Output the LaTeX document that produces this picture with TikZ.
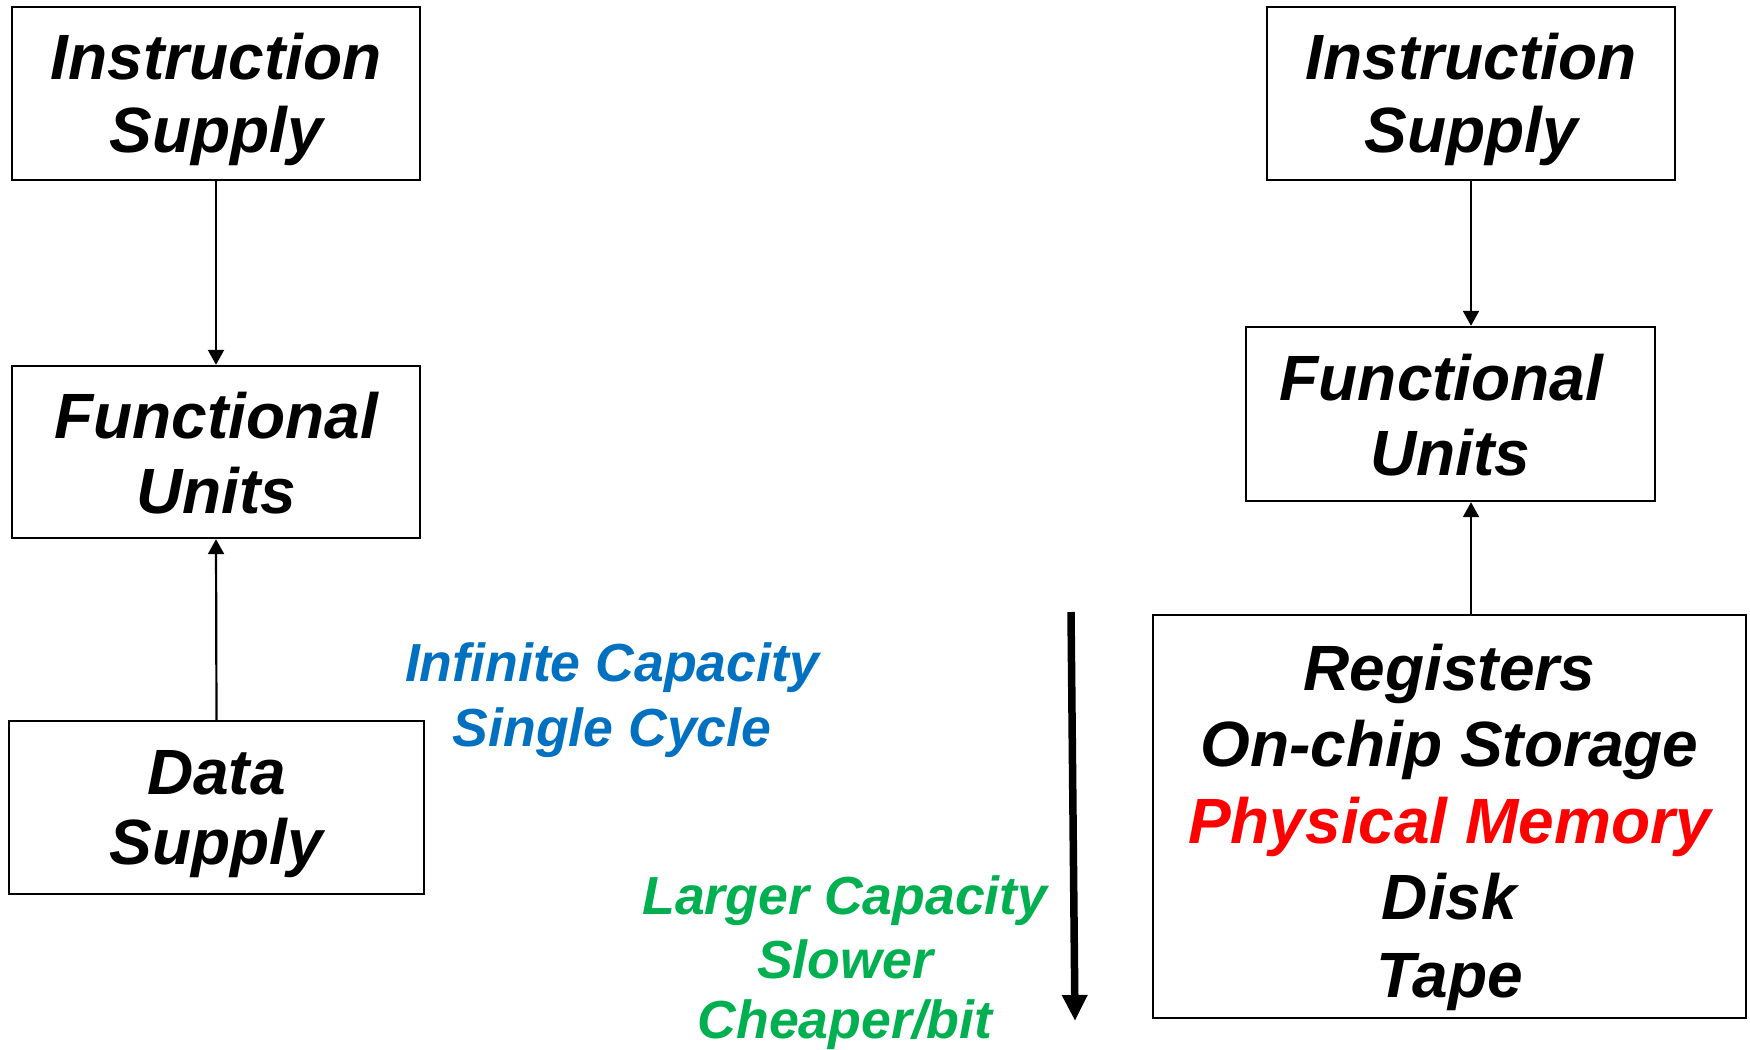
\documentclass[tikz,border=0pt]{standalone}
\usepackage{fontspec}
\setmainfont{Liberation Sans}
\usetikzlibrary{arrows.meta}
\definecolor{hblue}{HTML}{0070C0}
\definecolor{hgreen}{HTML}{00B050}
\definecolor{hred}{HTML}{FF0000}
\begin{document}
\begin{tikzpicture}[x=1pt,y=-1pt,
  boxshape/.style={draw=black,line width=2.4pt,inner sep=0pt,fill=none},
  boxtxt/.style={anchor=base,inner sep=0pt,font=\fontsize{64}{74}\selectfont\bfseries\itshape},
  hiertxt/.style={anchor=base,inner sep=0pt,font=\fontsize{64}{76}\selectfont\bfseries\itshape},
  notetxt/.style={anchor=base,inner sep=0pt,font=\fontsize{53.6}{64}\selectfont\bfseries\itshape},
  conn/.style={line width=2.2pt,-{Triangle[width=16pt,length=15pt]}},
  bigarrow/.style={line width=7.5pt,-{Triangle[width=24pt,length=26pt]}}
]
\useasboundingbox (0,0) rectangle (1750,1049);

% ---- boxes ----
\node[boxshape,minimum width=408pt,minimum height=173pt] (isL) at (216,93.5) {};
\node[boxshape,minimum width=408pt,minimum height=172pt] (fuL) at (216,452) {};
\node[boxshape,minimum width=415pt,minimum height=173pt] (dsL) at (216.5,807.5) {};
\node[boxshape,minimum width=408pt,minimum height=173pt] (isR) at (1471,93.5) {};
\node[boxshape,minimum width=409pt,minimum height=174pt] (fuR) at (1450.5,414) {};
\node[boxshape,minimum width=593pt,minimum height=403pt] (hier) at (1449.5,816.5) {};

% ---- box texts ----
\node[boxtxt] (isLa) at (216,80) {Instruction};
\node[boxtxt] (isLb) at (216,152) {Supply};
\node[boxtxt] (fuLa) at (216,438) {Functional};
\node[boxtxt] (fuLb) at (216,513) {Units};
\node[boxtxt] (dsLa) at (216.5,794) {Data};
\node[boxtxt] (dsLb) at (216.5,864) {Supply};
\node[boxtxt] (isRa) at (1471,80) {Instruction};
\node[boxtxt] (isRb) at (1471,152) {Supply};
\node[boxtxt] (fuRa) at (1450.5,400) {Functional\rule{18pt}{0pt}};
\node[boxtxt] (fuRb) at (1450.5,475) {Units};

\node[hiertxt] (h1) at (1449.5,690) {Registers};
\node[hiertxt] (h2) at (1449.5,766) {On-chip Storage};
\node[hiertxt,text=hred] (h3) at (1449.5,843) {Physical Memory};
\node[hiertxt] (h4) at (1449.5,919) {Disk};
\node[hiertxt] (h5) at (1449.5,997) {Tape};

% ---- notes ----
\node[notetxt,text=hblue] (b1) at (612,681) {Infinite Capacity};
\node[notetxt,text=hblue] (b2) at (612,746) {Single Cycle};
\node[notetxt,text=hgreen] (g1) at (845,914) {Larger Capacity};
\node[notetxt,text=hgreen] (g2) at (845,978) {Slower};
\node[notetxt,text=hgreen] (g3) at (845,1038) {Cheaper/bit};

% ---- connectors ----
\draw[conn] (isL.south) -- (fuL.north);
\draw[conn] (dsL.north) -- (fuL.south);
\draw[conn] (isR.south) -- (isR.south |- fuR.north);
\draw[conn] (isR.south |- hier.north) -- (isR.south |- fuR.south);

\coordinate (ta) at (1071,612);
\coordinate (tb) at (1075,1021);
\draw[bigarrow] (ta) -- (tb);
\end{tikzpicture}
\end{document}
